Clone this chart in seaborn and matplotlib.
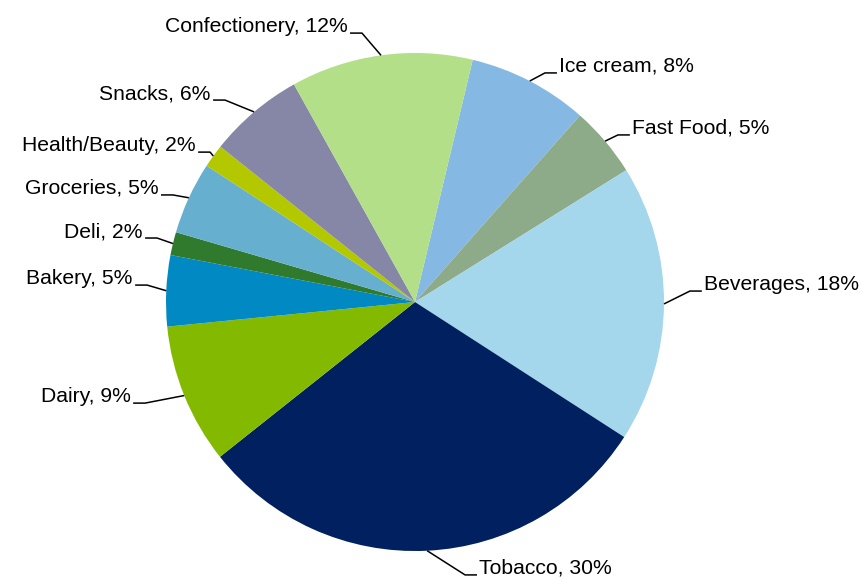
import matplotlib
matplotlib.use("Agg")
import matplotlib.pyplot as plt
import seaborn as sns
import numpy as np

# Sales mix by category, clockwise from the top
categories = ["Ice cream", "Fast Food", "Beverages", "Tobacco", "Dairy", "Bakery",
              "Deli", "Groceries", "Health/Beauty", "Snacks", "Confectionery"]
shares = [7.8, 4.6, 18.0, 30.2, 9.1, 4.6, 1.5, 4.7, 1.5, 6.2, 11.8]
colors = ["#85B9E3", "#8DAB89", "#A4D6EC", "#00205F", "#83BA00", "#0089C2",
          "#2F7A2C", "#66AFCF", "#B4C800", "#8686A6", "#B2DF87"]

# Leader-line elbow for each label (pie radius = 1) and the side its text sits on
label_elbows = [(0.522, 0.920), (0.815, 0.671), (1.104, 0.044), (0.201, -1.096),
                (-1.084, -0.406), (-1.076, 0.068), (-1.036, 0.257), (-0.972, 0.430),
                (-0.823, 0.602), (-0.763, 0.811), (-0.213, 1.080)]
label_sides = [1, 1, 1, 1, -1, -1, -1, -1, -1, -1, -1]

sns.set_theme(style="white")
plt.rcParams["font.family"] = ["Liberation Sans", "DejaVu Sans"]

fig = plt.figure(figsize=(8.67, 5.79), dpi=100)
ax = fig.add_axes([0, 0, 1, 1])
wedges, _ = ax.pie(shares, colors=colors, startangle=76.6, counterclock=False,
                   radius=1.0, center=(0, 0), wedgeprops=dict(linewidth=0))
ax.set_aspect("auto")
ax.set_xlim(-1.6667, 1.8153)
ax.set_ylim(-1.1124, 1.2129)
ax.axis("off")

seg = 0.048   # horizontal tail of each leader line
gap = 0.010   # space between tail and text
for w, name, val, (bx, by), side in zip(wedges, categories, shares, label_elbows, label_sides):
    mid = np.deg2rad((w.theta1 + w.theta2) / 2.0)
    ex, ey = np.cos(mid), np.sin(mid)
    tx = bx + side * seg
    ax.plot([ex, bx, tx], [ey, by, by], color="black", lw=1.1, solid_capstyle="butt")
    ax.text(tx + side * gap, by + 0.004, f"{name}, {val:.0f}%",
            ha="left" if side > 0 else "right", va="baseline",
            fontsize=15.2, color="black")

fig.savefig("out.png", dpi=100)
